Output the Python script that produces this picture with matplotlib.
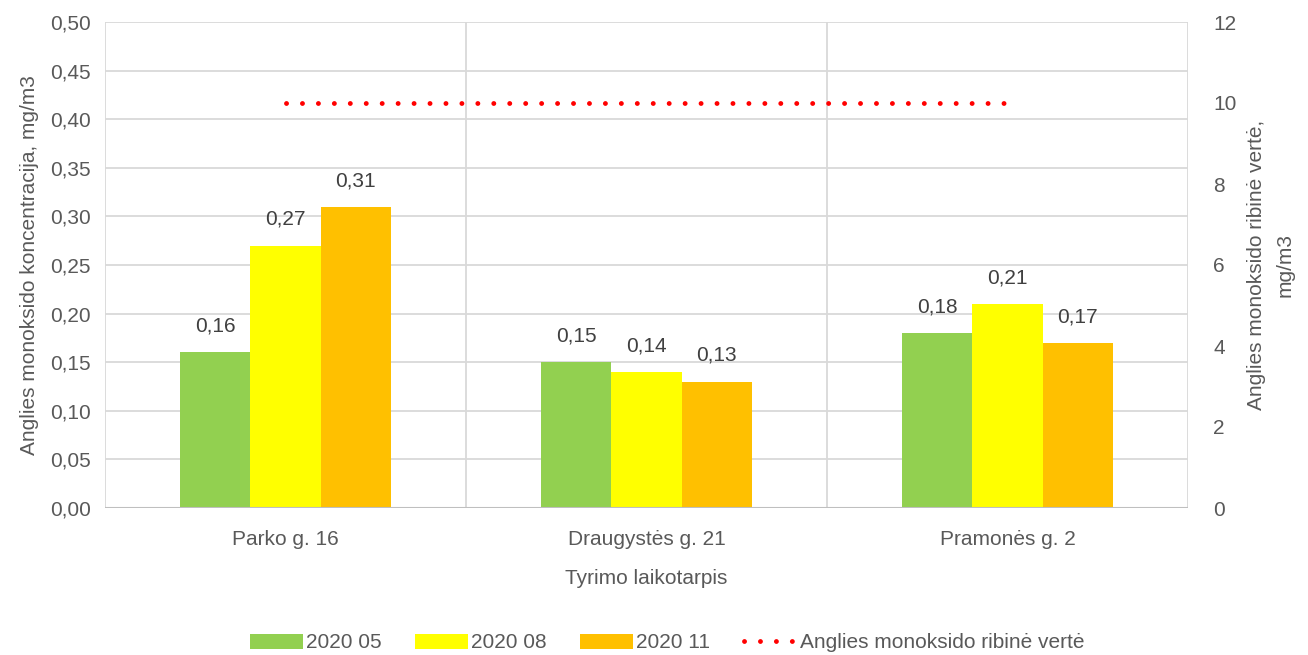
import numpy as np
import matplotlib.pyplot as plt
from matplotlib.ticker import FuncFormatter

plt.rcParams['font.family'] = ['Liberation Sans', 'DejaVu Sans']

vietos = ["Parko g. 16", "Draugystės g. 21", "Pramonės g. 2"]
serijos = ["2020 05", "2020 08", "2020 11"]
v_2020_05 = [0.16, 0.15, 0.18]
v_2020_08 = [0.27, 0.14, 0.21]
v_2020_11 = [0.31, 0.13, 0.17]
ribine_verte = [10, 10, 10]

spalvos = ["#92D050", "#FFFF00", "#FFC000"]
pilka = "#595959"
tinklelis = "#D9D9D9"

def kablelis(v, pos=None):
    return f"{v:.2f}".replace(".", ",")

fig = plt.figure(figsize=(13.08, 6.55), dpi=100)
ax = fig.add_axes([105/1308, 1 - 508/655, (1188 - 105)/1308, (508 - 22)/655])

x = np.arange(len(vietos))
w = 0.194
for k, (vals, spalva, pav) in enumerate(zip([v_2020_05, v_2020_08, v_2020_11], spalvos, serijos)):
    bars = ax.bar(x + (k - 1) * w, vals, w, color=spalva, label=pav, zorder=3)
    for b, v in zip(bars, vals):
        ax.annotate(kablelis(v), (b.get_x() + b.get_width() / 2, v), xytext=(0, 12),
                    textcoords="offset points", ha="center", va="bottom",
                    fontsize=15, color="#404040")

ax.set_xlim(-0.5, 2.5)
ax.set_ylim(0, 0.5)
ax.set_yticks(np.arange(0, 0.501, 0.05))
ax.yaxis.set_major_formatter(FuncFormatter(kablelis))
ax.set_xticks(x)
ax.set_xticklabels(vietos)
for s in ax.spines.values():
    s.set_visible(False)
ax.grid(axis="y", color=tinklelis, lw=1.3, zorder=0)
for xv in [-0.5, 0.5, 1.5, 2.5]:
    ax.axvline(xv, color=tinklelis, lw=1.3, zorder=0)
ax.axhline(0, color="#BFBFBF", lw=1.5, zorder=4)
ax.tick_params(length=0, labelsize=15, colors=pilka, pad=10)
ax.tick_params(axis="x", pad=16)
ax.set_ylabel("Anglies monoksido koncentracija, mg/m3", fontsize=15, color=pilka, labelpad=8)
ax.set_xlabel("Tyrimo laikotarpis", fontsize=15, color=pilka, labelpad=14)

ax2 = ax.twinx()
ax2.set_ylim(0, 12)
ax2.set_yticks(np.arange(0, 13, 2))
line, = ax2.plot(x, ribine_verte, color="#FF0000", lw=3.5, linestyle=(0, (0.01, 3.27)),
                 dash_capstyle="round", label="Anglies monoksido ribinė vertė", zorder=5)
for s in ax2.spines.values():
    s.set_visible(False)
ax2.tick_params(length=0, labelsize=15, colors=pilka, pad=18)
ax2.set_ylabel("Anglies monoksido ribinė vertė,\nmg/m3", fontsize=15, color=pilka,
               labelpad=8, linespacing=1.6)

h1, l1 = ax.get_legend_handles_labels()
fig.legend(h1 + [line], l1 + [line.get_label()], loc="center", bbox_to_anchor=(0.51, 12/655),
           ncol=4, frameon=False, fontsize=15, labelcolor=pilka, handlelength=2.55,
           handletextpad=0.15, columnspacing=1.6)

fig.savefig("out.png", dpi=100)
